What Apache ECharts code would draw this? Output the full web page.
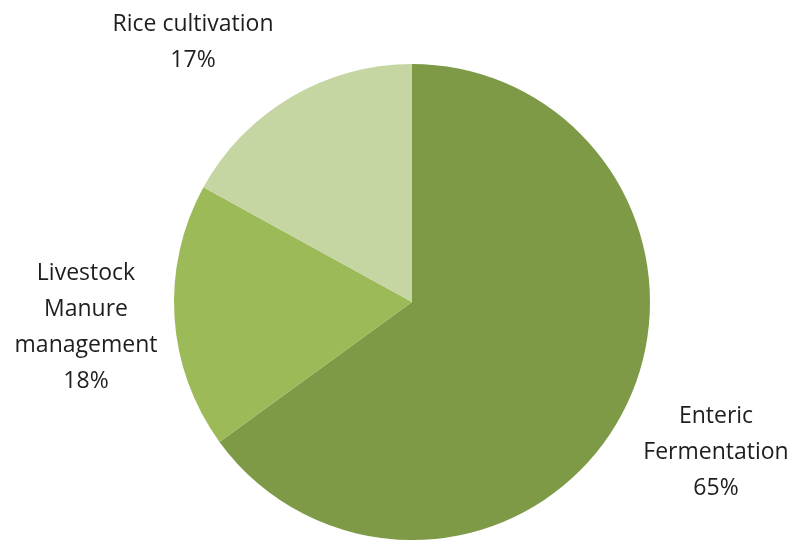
<!DOCTYPE html>
<html>
<head>
<meta charset="utf-8">
<script src="https://cdn.jsdelivr.net/npm/echarts@6/dist/echarts.min.js"></script>
<style>
  html, body { margin: 0; padding: 0; background: #fff; }
  #chart { width: 795px; height: 552px; }
</style>
</head>
<body>
<div id="chart"></div>
<script>
// sources of emissions (share, %)
var sourceNames = ['Enteric\nFermentation', 'Livestock\nManure\nmanagement', 'Rice cultivation'];
var sourceValues = [65, 18, 17];
var sourceColors = ['#7e9a47', '#9dba59', '#c5d6a3'];

// label anchors (centre of each text block)
var labelPos = [[716, 452], [86, 327], [193, 42]];

var chart = echarts.init(document.getElementById('chart'));

var pieData = [];
for (var i = 0; i < sourceNames.length; i++) {
	pieData.push({
		name: sourceNames[i],
		value: sourceValues[i],
		itemStyle: { color: sourceColors[i] }
	});
}

chart.setOption({
	backgroundColor: '#ffffff',
	animation: false,
	series: [{
		type: 'pie',
		center: [412, 302],
		radius: 238,
		startAngle: 90,
		clockwise: true,
		data: pieData,
		itemStyle: { borderWidth: 0 },
		label: {
			show: true,
			position: 'outside',
			formatter: '{b}\n{d}%',
			fontFamily: 'Open Sans',
			fontSize: 23,
			lineHeight: 36,
			color: '#1e1e1e',
			align: 'center',
			overflow: 'none'
		},
		labelLine: { show: false },
		labelLayout: function(params) {
			var p = labelPos[params.dataIndex];
			return { x: p[0], y: p[1], align: 'center', verticalAlign: 'middle' };
		}
	}]
});
</script>
</body>
</html>
